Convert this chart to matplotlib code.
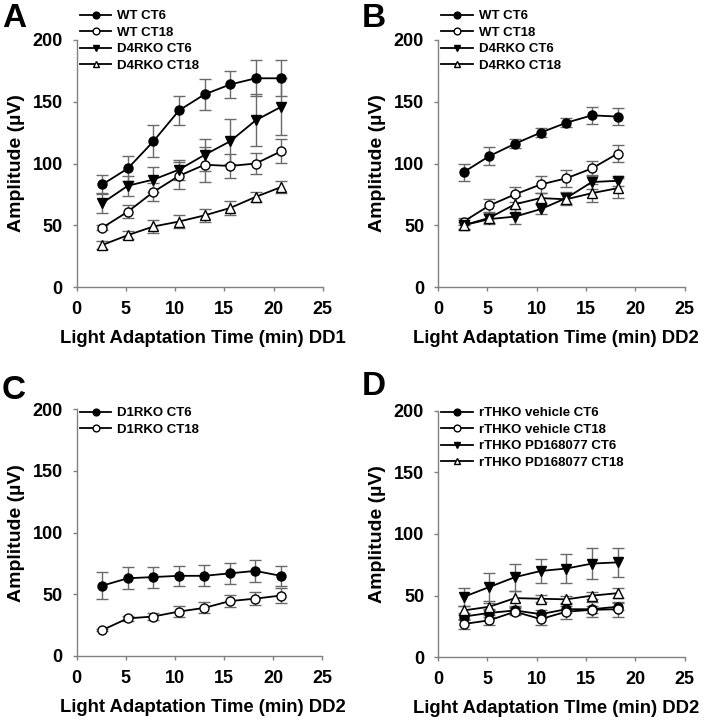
import matplotlib
matplotlib.use("Agg")
import matplotlib.pyplot as plt
import numpy as np

plt.rcParams['font.family'] = ['Liberation Sans', 'DejaVu Sans']
plt.rcParams['font.weight'] = 'bold'

# light adaptation times (min)
t8 = [2.6, 5.2, 7.8, 10.4, 13.0, 15.6, 18.2, 20.8]
t7 = [2.6, 5.2, 7.8, 10.4, 13.0, 15.6, 18.2]

# panel A (DD1)
a_labels = ["WT CT6", "WT CT18", "D4RKO CT6", "D4RKO CT18"]
a_wt_ct6 = [83, 96, 118, 143, 156, 164, 169, 169]
a_wt_ct6_err = [7.5, 10, 13, 12, 12.5, 11, 14.5, 14.5]
a_wt_ct18 = [48, 61, 77, 90, 99, 98, 100, 110]
a_wt_ct18_err = [2, 5, 7, 11, 14, 10, 8.5, 9.5]
a_ko_ct6 = [68, 82, 87, 95, 107, 118, 135, 146]
a_ko_ct6_err = [8, 8, 10, 8, 13, 18, 21, 23]
a_ko_ct18 = [34, 42, 49, 53, 58, 64, 73, 81]
a_ko_ct18_err = [3, 3, 5, 5, 5, 6, 4, 5]

# panel B (DD2)
b_labels = ["WT CT6", "WT CT18", "D4RKO CT6", "D4RKO CT18"]
b_wt_ct6 = [93, 106, 116, 125, 133, 139, 138]
b_wt_ct6_err = [7, 7, 3.5, 3.5, 3.5, 7, 7]
b_wt_ct18 = [53, 66, 75, 83, 88, 96, 108]
b_wt_ct18_err = [3, 5, 6, 7, 7, 6, 7]
b_ko_ct6 = [50, 55, 57, 63, 72, 85, 86]
b_ko_ct6_err = [3, 4, 6, 4, 5, 6, 4]
b_ko_ct18 = [50, 56, 67, 72, 71, 76, 80]
b_ko_ct18_err = [4, 4, 7, 4, 5, 7, 8]

# panel C (DD2)
c_labels = ["D1RKO CT6", "D1RKO CT18"]
c_ct6 = [57, 63, 64, 65, 65, 67, 69, 65]
c_ct6_err = [11, 9, 8.5, 8, 8.5, 8.5, 9, 8]
c_ct18 = [21, 30.5, 32, 36, 39, 44.5, 46.5, 49]
c_ct18_err = [1, 2, 3, 4.5, 4.5, 5, 5.5, 6]

# panel D (DD2)
d_labels = ["rTHKO vehicle CT6", "rTHKO vehicle CT18",
            "rTHKO PD168077 CT6", "rTHKO PD168077 CT18"]
d_veh_ct6 = [33, 36, 38, 35, 39, 39, 41]
d_veh_ct6_err = [3, 3, 3, 3, 3, 3, 3]
d_veh_ct18 = [27, 30, 37, 31, 37, 38.5, 39]
d_veh_ct18_err = [4, 4, 3, 5, 6, 6, 6]
d_pd_ct6 = [49, 57, 65, 70, 72, 76, 77]
d_pd_ct6_err = [7, 11, 11, 10, 12, 12.5, 12]
d_pd_ct18 = [38, 41, 48, 47.5, 47, 50, 52]
d_pd_ct18_err = [4, 3, 6, 3, 3, 3, 4]

styles = [
    dict(marker='o', mfc='black'),
    dict(marker='o', mfc='white'),
    dict(marker='v', mfc='black'),
    dict(marker='^', mfc='white'),
]

fig = plt.figure(figsize=(7.04, 7.2), dpi=100)

W, H = 704, 720
panels = [
    # letter, axes box (left, right, top, bottom) in px, letter pos
    ("A", (76.7, 322.7, 40, 287), (2, 27)),
    ("B", (438, 684.7, 40, 287), (362, 27)),
    ("C", (76.7, 322.0, 409.3, 656), (2, 399)),
    ("D", (438, 684.7, 410.7, 657.3), (362, 395)),
]
xlabels = ["Light Adaptation Time (min) DD1", "Light Adaptation Time (min) DD2",
           "Light Adaptation Time (min) DD2", "Light Adaptation TIme (min) DD2"]
xlabel_cx = [203, 556, 203, 556]
legend_top = [10, 10, 407, 407]

series = [
    (t8, [a_wt_ct6, a_wt_ct18, a_ko_ct6, a_ko_ct18],
     [a_wt_ct6_err, a_wt_ct18_err, a_ko_ct6_err, a_ko_ct18_err], a_labels),
    (t7, [b_wt_ct6, b_wt_ct18, b_ko_ct6, b_ko_ct18],
     [b_wt_ct6_err, b_wt_ct18_err, b_ko_ct6_err, b_ko_ct18_err], b_labels),
    (t8, [c_ct6, c_ct18], [c_ct6_err, c_ct18_err], c_labels),
    (t7, [d_veh_ct6, d_veh_ct18, d_pd_ct6, d_pd_ct18],
     [d_veh_ct6_err, d_veh_ct18_err, d_pd_ct6_err, d_pd_ct18_err], d_labels),
]

for i, ((letter, (l, r, t, b), (lx, ly)), (xs, ys, errs, labels)) in enumerate(zip(panels, series)):
    ax = fig.add_axes([l / W, 1 - b / H, (r - l) / W, (b - t) / H])
    handles = []
    for y, e, st in zip(ys, errs, styles):
        h = ax.errorbar(xs, y, yerr=e, color='black', lw=1.3, ms=6.5,
                        mec='black', mew=1, ecolor='#6a6a6a', elinewidth=1,
                        capsize=4, capthick=1, **st)
        handles.append(h[0])

    ax.set_xlim(0, 25)
    ax.set_ylim(0, 200)
    ax.set_xticks([0, 5, 10, 15, 20, 25])
    ax.set_yticks([0, 50, 100, 150, 200])
    for s in ['top', 'right']:
        ax.spines[s].set_visible(False)
    for s in ['left', 'bottom']:
        ax.spines[s].set_color('#808080')
        ax.spines[s].set_linewidth(1)
    ax.tick_params(direction='out', length=3, width=1, color='#808080',
                   labelsize=13, pad=7)
    for lab in ax.get_xticklabels() + ax.get_yticklabels():
        lab.set_fontweight('bold')

    ax_w = r - l
    ax_h = b - t
    ax.set_ylabel("Amplitude (\u00b5V)", fontsize=14, fontweight='bold')
    ax.set_xlabel(xlabels[i], fontsize=13.3, fontweight='bold')
    ax.yaxis.set_label_coords(-0.21, 0.5)
    ax.xaxis.set_label_coords((xlabel_cx[i] - l) / ax_w, -0.175)

    leg = ax.legend(handles, labels, loc='upper left',
                    bbox_to_anchor=(3 / ax_w, (b - legend_top[i]) / ax_h),
                    frameon=False, fontsize=9.5, handlelength=2.4,
                    handletextpad=0.45, labelspacing=0.33, borderpad=0,
                    borderaxespad=0, markerscale=0.75)
    for txt in leg.get_texts():
        txt.set_fontweight('bold')

    fig.text(lx / W, 1 - ly / H, letter, fontsize=24, fontweight='bold',
             ha='left', va='baseline')

fig.savefig("out.png", dpi=100)
